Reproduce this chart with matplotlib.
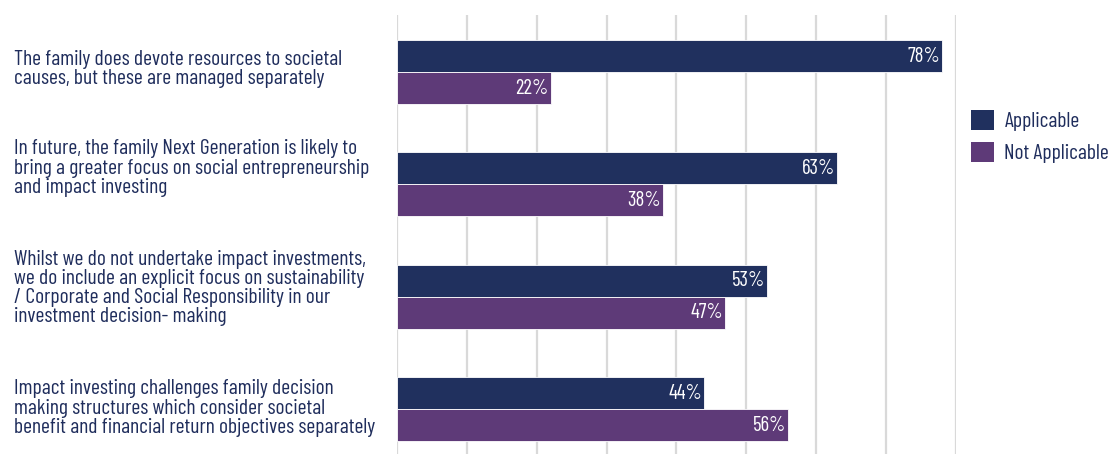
"""
Horizontal grouped bar chart: family attitudes to impact investing.
"""

import matplotlib.pyplot as plt
import numpy as np
from matplotlib.patches import Patch

categories = [
    "The family does devote resources to societal\ncauses, but these are managed separately",
    "In future, the family Next Generation is likely to\nbring a greater focus on social entrepreneurship\nand impact investing",
    "Whilst we do not undertake impact investments,\nwe do include an explicit focus on sustainability\n/ Corporate and Social Responsibility in our\ninvestment decision- making",
    "Impact investing challenges family decision\nmaking structures which consider societal\nbenefit and financial return objectives separately",
]
applicable = [78, 63, 53, 44]
not_applicable = [22, 38, 47, 56]
series_names = ["Applicable", "Not Applicable"]

NAVY = "#20305e"
PURPLE = "#5e3a78"
TEXT = "#1f2d5c"
FONT = ["Barlow Condensed", "DejaVu Sans"]

plt.rcParams["font.family"] = FONT

fig = plt.figure(figsize=(11.12, 4.54), dpi=100)
ax = fig.add_axes([0.357, 0.0, 0.5027, 0.967])

y = np.arange(len(categories))
h = 0.285
b1 = ax.barh(y - h / 2, applicable, height=h, color=NAVY, edgecolor="white", linewidth=0.6, zorder=3)
b2 = ax.barh(y + h / 2, not_applicable, height=h, color=PURPLE, edgecolor="white", linewidth=0.6, zorder=3)

for bars, vals in ((b1, applicable), (b2, not_applicable)):
    for bar, v in zip(bars, vals):
        ax.text(bar.get_width() - 0.3, bar.get_y() + bar.get_height() / 2, f"{v}%",
                ha="right", va="center", color="white", fontsize=15, zorder=4)

ax.set_xlim(0, 80)
ax.set_ylim(3.40, -0.508)
ax.set_xticks(np.arange(0, 81, 10))
ax.grid(axis="x", color="#d9d9d9", linewidth=1.6, zorder=0)
ax.tick_params(left=False, bottom=False, labelleft=False, labelbottom=False)
for s in ax.spines.values():
    s.set_visible(False)

# category labels, left aligned in the margin
label_y = [69, 168, 288, 408]
for text, py in zip(categories, label_y):
    fig.text(14 / 1112, 1 - py / 454, text, ha="left", va="center",
             color=TEXT, fontsize=15.5, linespacing=1.02)

handles = [Patch(facecolor=NAVY), Patch(facecolor=PURPLE)]
fig.legend(handles, series_names, loc="upper left", bbox_to_anchor=(971 / 1112, 1 - 110 / 454),
           frameon=False, fontsize=15.5, handlelength=1.05, handleheight=1.05,
           handletextpad=0.5, labelspacing=0.5, labelcolor=TEXT,
           borderpad=0, borderaxespad=0)

fig.savefig("out.png", dpi=100)
